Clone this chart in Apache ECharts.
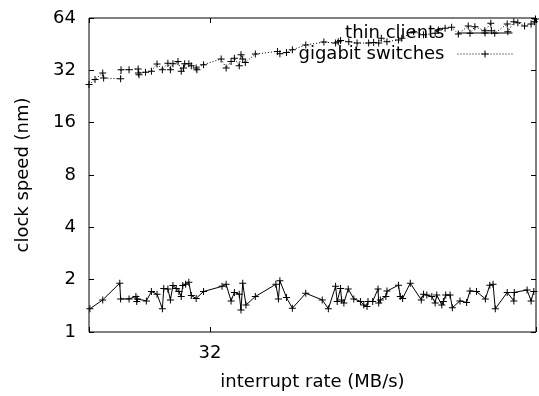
<!DOCTYPE html>
<html>
<head>
<meta charset="utf-8">
<script src="https://cdn.jsdelivr.net/npm/echarts@6/dist/echarts.min.js"></script>
<style>html,body{margin:0;padding:0;background:#fff}#c{width:539px;height:396px}</style>
</head>
<body>
<div id="c"></div>
<script>
const seriesNames = ['thin clients', 'gigabit switches'];
const xTicks = [32];
const yTicks = [1, 2, 4, 8, 16, 32, 64];
const thinClients = [
[26.04,1.36],[26.62,1.53],[27.41,1.91],[27.45,1.55],[27.85,1.55],[28.18,1.60],[28.22,1.50],[28.25,1.55],
[28.69,1.51],[28.94,1.71],[29.22,1.65],[29.49,1.36],[29.56,1.78],[29.77,1.77],[29.90,1.53],[30.03,1.85],
[30.20,1.78],[30.34,1.71],[30.46,1.60],[30.54,1.85],[30.69,1.88],[30.86,1.93],[30.99,1.62],[31.25,1.56],
[31.65,1.71],[32.67,1.83],[32.90,1.88],[33.18,1.51],[33.37,1.69],[33.65,1.65],[33.75,1.34],[33.85,1.91],
[34.04,1.43],[34.59,1.60],[35.83,1.88],[35.99,1.55],[36.08,1.97],[36.49,1.58],[36.86,1.37],[37.72,1.67],
[38.80,1.53],[39.21,1.36],[39.70,1.83],[39.81,1.50],[40.04,1.78],[40.11,1.53],[40.27,1.47],[40.57,1.77],
[40.96,1.55],[41.43,1.50],[41.67,1.43],[41.90,1.40],[41.97,1.50],[42.31,1.50],[42.70,1.77],[42.75,1.47],
[42.87,1.53],[43.28,1.60],[43.36,1.72],[44.23,1.86],[44.36,1.60],[44.54,1.56],[45.13,1.91],[45.99,1.53],
[46.17,1.65],[46.43,1.63],[46.83,1.60],[47.10,1.47],[47.23,1.63],[47.64,1.43],[47.77,1.50],[47.96,1.63],
[48.32,1.63],[48.51,1.38],[49.15,1.51],[49.71,1.48],[50.00,1.72],[50.56,1.71],[51.34,1.55],[51.73,1.86],
[52.02,1.88],[52.22,1.36],[53.30,1.69],[53.91,1.51],[53.95,1.69],[55.15,1.745],[55.53,1.51],[55.79,1.71]
];
const gigabitSwitches = [
[26.0,26.5],[26.27,28.3],[26.62,30.9],[26.66,28.9],[27.45,28.6],[27.47,32.3],[27.85,32.3],[28.29,32.6],
[28.30,30.9],[28.33,30.2],[28.65,31.2],[28.94,31.6],[29.22,34.8],[29.49,32.3],[29.77,35.2],[29.90,32.3],
[30.03,34.9],[30.29,36.0],[30.46,31.6],[30.58,33.0],[30.64,34.9],[30.86,34.9],[30.99,34.0],[31.25,33.0],
[31.29,32.3],[31.65,34.5],[32.62,37.2],[32.90,33.0],[33.18,36.0],[33.37,37.6],[33.65,34.0],[33.75,39.3],
[33.85,37.2],[34.00,35.5],[34.59,39.7],[35.93,41.1],[36.08,39.8],[36.49,40.5],[36.86,42.0],[37.72,44.8],
[38.91,46.5],[39.70,45.9],[39.88,46.8],[40.04,47.5],[40.61,46.8],[41.19,45.9],[42.02,45.9],[42.38,46.2],
[42.75,45.9],[42.94,49.0],[43.36,46.8],[44.23,47.9],[44.48,49.0],[45.39,53.4],[46.17,51.2],[47.10,52.3],
[47.36,54.6],[47.91,55.9],[48.45,56.6],[49.01,51.8],[49.85,57.6],[50.00,52.3],[50.42,57.0],[51.29,54.1],
[51.82,59.7],[51.87,54.1],[52.17,52.3],[53.30,59.1],[53.36,53.4],[53.91,60.9],[54.28,60.1],[54.91,57.6],
[55.53,59.1],[55.85,60.9],[55.95,63.2]
];

const FONT = 'DejaVu Sans';
const plus = 'path://M3,0h1v3h3v1h-3v3h-1v-3h-3v-1h3z';
function isTick(list, v) { return list.some(t => Math.abs(t - v) < 1e-6 * t); }

const xBase = {
  type: 'log', logBase: 2, min: 26, max: 56,
  axisLine: { show: false },
  axisTick: { inside: true, length: 5, lineStyle: { color: '#000', width: 1 } },
  splitLine: { show: false }, minorTick: { show: false }
};
const yBase = {
  type: 'log', logBase: 2, min: 1, max: 64,
  axisLine: { show: false },
  axisTick: { inside: true, length: 5, lineStyle: { color: '#000', width: 1 } },
  splitLine: { show: false }
};

const chart = echarts.init(document.getElementById('c'), null, { renderer: 'canvas' });
chart.setOption({
  animation: false,
  backgroundColor: '#fff',
  grid: { left: 89, right: 1, top: 18, bottom: 62, show: true, borderColor: '#000', borderWidth: 1, backgroundColor: 'transparent' },
  legend: {
    data: seriesNames, orient: 'vertical', align: 'right', right: 26, top: 24, padding: 0,
    itemWidth: 55, itemHeight: 9, itemGap: 3, selectedMode: false,
    lineStyle: { width: 1 },
    textStyle: { fontFamily: FONT, fontSize: 18, color: '#000', padding: [0, 8, 0, 0] }
  },
  xAxis: [
    Object.assign({}, xBase, {
      position: 'bottom',
      name: 'interrupt rate (MB/s)', nameLocation: 'middle', nameGap: 41,
      nameTextStyle: { fontFamily: FONT, fontSize: 18, color: '#000' },
      axisLabel: { margin: 12, fontFamily: FONT, fontSize: 18, color: '#000',
        formatter: v => isTick(xTicks, v) ? String(Math.round(v)) : '' }
    }),
    Object.assign({}, xBase, { position: 'top', axisLabel: { show: false } })
  ],
  yAxis: [
    Object.assign({}, yBase, {
      position: 'left',
      name: 'clock speed (nm)', nameLocation: 'middle', nameGap: 57,
      nameTextStyle: { fontFamily: FONT, fontSize: 18, color: '#000' },
      axisLabel: { margin: 13, fontFamily: FONT, fontSize: 18, color: '#000',
        formatter: v => isTick(yTicks, v) ? String(Math.round(v)) : '' }
    }),
    Object.assign({}, yBase, { position: 'right', axisLabel: { show: false } })
  ],
  series: [
    { name: seriesNames[0], type: 'line', data: thinClients, xAxisIndex: 0, yAxisIndex: 0,
      symbol: plus, symbolSize: 7, showAllSymbol: true,
      itemStyle: { color: '#000' }, lineStyle: { color: '#000', width: 1, type: 'solid' } },
    { name: seriesNames[1], type: 'line', data: gigabitSwitches, xAxisIndex: 0, yAxisIndex: 0,
      symbol: plus, symbolSize: 7, showAllSymbol: true,
      itemStyle: { color: '#000' }, lineStyle: { color: '#000', width: 1, type: [1, 2] } }
  ]
});
</script>
</body>
</html>
